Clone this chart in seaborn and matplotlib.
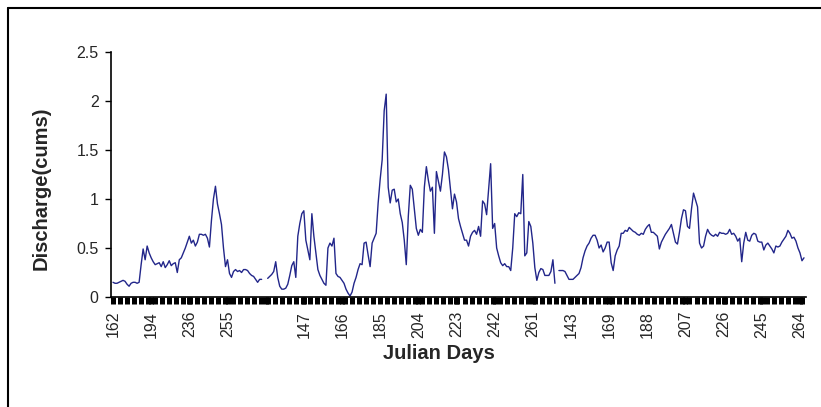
import numpy as np
import pandas as pd
import matplotlib
matplotlib.use('Agg')
import matplotlib.pyplot as plt
from matplotlib.lines import Line2D
from matplotlib.ticker import MultipleLocator
import seaborn as sns

# Caudal diario (cumecs) por temporada
temporada_1 = [0.15, 0.14, 0.14, 0.15, 0.16, 0.17, 0.16, 0.13, 0.11, 0.14,
               0.15, 0.15, 0.14, 0.15, 0.33, 0.49, 0.38, 0.52, 0.45, 0.40,
               0.36, 0.33, 0.34, 0.35, 0.31, 0.36, 0.30, 0.33, 0.37, 0.32,
               0.34, 0.35, 0.25, 0.38, 0.40, 0.45, 0.50, 0.56, 0.62, 0.55,
               0.58, 0.52, 0.56, 0.64, 0.64, 0.63, 0.64, 0.60, 0.51, 0.78,
               1.00, 1.13, 0.95, 0.85, 0.74, 0.50, 0.31, 0.38, 0.24, 0.20,
               0.26, 0.28, 0.26, 0.27, 0.25, 0.28, 0.28, 0.27, 0.24, 0.22,
               0.21, 0.18, 0.15, 0.18, 0.18]

temporada_2 = [0.19, 0.21, 0.23, 0.26, 0.36, 0.20, 0.11, 0.08, 0.08, 0.09,
               0.13, 0.22, 0.32, 0.36, 0.20, 0.62, 0.75, 0.85, 0.88, 0.58,
               0.48, 0.38, 0.85, 0.62, 0.45, 0.28, 0.22, 0.18, 0.14, 0.12,
               0.50, 0.55, 0.52, 0.60, 0.24, 0.21, 0.20, 0.17, 0.14, 0.08,
               0.04, 0.01, 0.05, 0.14, 0.20, 0.28, 0.34, 0.33, 0.55, 0.56,
               0.43, 0.31, 0.55, 0.60, 0.65, 0.96, 1.20, 1.40, 1.90, 2.07,
               1.12, 0.96, 1.09, 1.10, 0.97, 1.00, 0.85, 0.76, 0.58, 0.33,
               0.82, 1.14, 1.10, 0.90, 0.70, 0.63, 0.69, 0.66, 1.12, 1.33,
               1.19, 1.08, 1.12, 0.65, 1.28, 1.18, 1.08, 1.25, 1.48, 1.43,
               1.30, 1.10, 0.90, 1.05, 0.97, 0.80, 0.72, 0.65, 0.58, 0.58,
               0.52, 0.62, 0.66, 0.68, 0.64, 0.72, 0.62, 0.98, 0.95, 0.84,
               1.10, 1.36, 0.70, 0.75, 0.50, 0.42, 0.35, 0.32, 0.34, 0.31,
               0.31, 0.27, 0.50, 0.85, 0.82, 0.86, 0.85, 1.25, 0.42, 0.45,
               0.77, 0.72, 0.55, 0.30, 0.17, 0.25, 0.29, 0.28, 0.22, 0.22,
               0.22, 0.26, 0.38, 0.14]

temporada_3 = [0.27, 0.27, 0.27, 0.26, 0.22, 0.18, 0.18, 0.18, 0.20, 0.22,
               0.24, 0.30, 0.40, 0.47, 0.52, 0.55, 0.60, 0.63, 0.63, 0.58,
               0.50, 0.53, 0.46, 0.50, 0.56, 0.56, 0.35, 0.27, 0.42, 0.48,
               0.52, 0.65, 0.65, 0.68, 0.67, 0.71, 0.69, 0.67, 0.66, 0.64,
               0.63, 0.65, 0.64, 0.69, 0.72, 0.74, 0.66, 0.66, 0.64, 0.62,
               0.49, 0.56, 0.60, 0.64, 0.67, 0.70, 0.74, 0.65, 0.56, 0.54,
               0.66, 0.80, 0.89, 0.88, 0.72, 0.70, 0.90, 1.06, 0.99, 0.92,
               0.55, 0.50, 0.52, 0.62, 0.69, 0.65, 0.63, 0.62, 0.64, 0.62,
               0.66, 0.65, 0.65, 0.64, 0.65, 0.69, 0.64, 0.65, 0.62, 0.57,
               0.60, 0.36, 0.55, 0.66, 0.58, 0.57, 0.63, 0.65, 0.64, 0.57,
               0.56, 0.56, 0.48, 0.53, 0.55, 0.52, 0.49, 0.45, 0.52, 0.51,
               0.52, 0.56, 0.59, 0.62, 0.68, 0.65, 0.60, 0.61, 0.57, 0.50,
               0.45, 0.37, 0.40]

# filas vacias entre temporadas en la hoja original
hueco_1 = [np.nan, np.nan]
hueco_2 = [np.nan]

# etiquetas del eje (una cada 19 categorias)
dias_juliano = ['162', '194', '236', '255', '', '147', '166', '185', '204',
                '223', '242', '261', '143', '169', '188', '207', '226', '245',
                '264']
paso_etiquetas = 19

valores = temporada_1 + hueco_1 + temporada_2 + hueco_2 + temporada_3
grupos = (['t1'] * len(temporada_1) + ['h1'] * len(hueco_1) +
          ['t2'] * len(temporada_2) + ['h2'] * len(hueco_2) +
          ['t3'] * len(temporada_3))
df = pd.DataFrame({'pos': np.arange(len(valores)), 'caudal': valores,
                   'temporada': grupos})
df = df.dropna()

sns.set_style('white')
plt.rcParams['font.family'] = ['Liberation Sans', 'DejaVu Sans']

fig = plt.figure(figsize=(8.21, 4.07), dpi=100)
ax = fig.add_axes([111 / 821, 1 - 297 / 407, 695 / 821, 245 / 407])

color_linea = '#22268a'
sns.lineplot(data=df, x='pos', y='caudal', hue='temporada',
             palette=[color_linea] * 3, estimator=None, legend=False,
             linewidth=1.0, ax=ax)

ax.set_xlim(-1, len(valores))
ax.set_ylim(0, 2.5)
ax.set_yticks([0, 0.5, 1, 1.5, 2, 2.5])
ax.set_yticklabels(['0', '0.5', '1', '1.5', '2', '2.5'])
ax.set_xticks(np.arange(0, len(valores), paso_etiquetas))
ax.set_xticklabels(dias_juliano, rotation=90)
ax.xaxis.set_minor_locator(MultipleLocator(3.5))

ax.tick_params(axis='y', which='major', length=4, width=1, color='black',
               labelsize=11.5, pad=5, left=True)
ax.tick_params(axis='x', which='major', length=5, width=3.6, color='black',
               labelsize=11.5, pad=5, bottom=True)
ax.tick_params(axis='x', which='minor', length=5, width=3.6, color='black',
               bottom=True)

for lado in ['top', 'right']:
    ax.spines[lado].set_visible(False)
for lado in ['left', 'bottom']:
    ax.spines[lado].set_color('black')
    ax.spines[lado].set_linewidth(1.2)

ax.set_xlabel('Julian Days', fontsize=14.5, fontweight='bold')
ax.set_ylabel('Discharge(cums)', fontsize=14.5, fontweight='bold')
ax.xaxis.set_label_coords((439 - 111) / 695, (297 - 344) / 245)
ax.yaxis.set_label_coords((51 - 111) / 695, (297 - 188) / 245)

# borde del area del grafico
fig.add_artist(Line2D([8 / 821, 8 / 821], [0, 1 - 8 / 407],
                      transform=fig.transFigure, color='black', lw=1.5))
fig.add_artist(Line2D([8 / 821, 1], [1 - 8 / 407, 1 - 8 / 407],
                      transform=fig.transFigure, color='black', lw=1.5))

fig.savefig('out.png', dpi=100)
